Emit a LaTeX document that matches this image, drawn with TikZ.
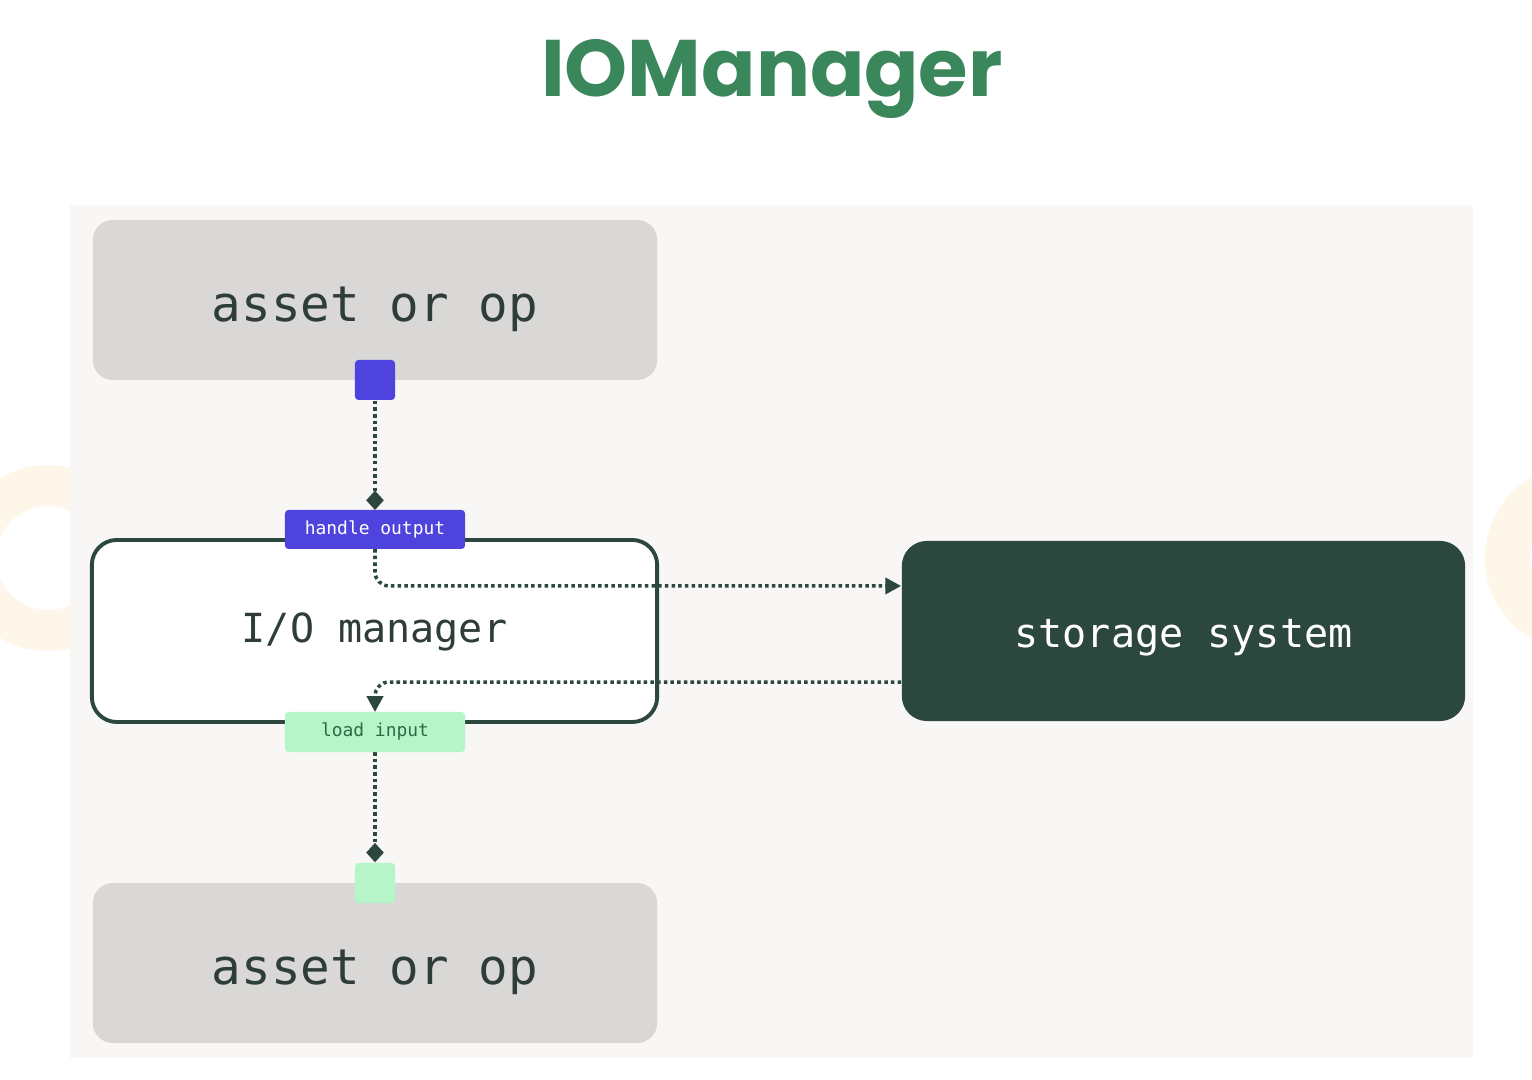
\documentclass[tikz,border=0pt]{standalone}
\usepackage{fontspec}
\setmonofont{DejaVu Sans Mono}
\newfontfamily\titlefont{Poppins}
\usetikzlibrary{arrows.meta}

\definecolor{panelgray}{HTML}{F8F7F5}
\definecolor{boxgray}{HTML}{D9D8D6}
\definecolor{inkgreen}{HTML}{2C473D}
\definecolor{textgreen}{HTML}{2E3D37}
\definecolor{handlepurple}{HTML}{4F43DD}
\definecolor{loadgreen}{HTML}{B6F5C8}
\definecolor{loadtext}{HTML}{2E6B45}
\definecolor{titlegreen}{HTML}{3B875C}
\definecolor{ringorange}{HTML}{FEF6E8}

\tikzset{
  assetbox/.style={fill=boxgray, rounded corners=0.2cm, minimum width=5.64cm,
    minimum height=1.6cm, text height=12.5pt, text depth=0pt,
    font=\ttfamily\fontsize{14}{16}\selectfont, text=textgreen},
  portsq/.style={rounded corners=1pt, minimum size=0.4cm, inner sep=0pt},
  tag/.style={rounded corners=1pt, minimum width=1.8cm, minimum height=0.39cm,
    inner sep=0pt, font=\ttfamily\fontsize{5.1}{6}\selectfont},
  flow/.style={inkgreen, line width=1pt, dash pattern=on 1pt off 0.9pt},
}

\begin{document}
\begin{tikzpicture}[x=0.01cm,y=-0.01cm]
   \useasboundingbox (0,0) rectangle (1532,1080);
   % faint rings at the sides
   \fill[ringorange, even odd rule] (48,558) circle (0.93cm) (48,558) circle (0.52cm);
   \fill[ringorange, even odd rule] (1578,558) circle (0.93cm) (1578,558) circle (0.48cm);
   \fill[panelgray] (70,205) rectangle (1473,1058);

   \node[anchor=base, text=titlegreen, font=\titlefont\bfseries\fontsize{22.8}{26}\selectfont] (title) at (772,97) {IOManager};

   \node[assetbox] (srcop) at (375,300) {asset or op};
   \node[assetbox] (dstop) at (375,963) {asset or op};
   \node[draw=inkgreen, line width=1.1pt, fill=white, rounded corners=0.25cm,
     minimum width=5.65cm, minimum height=1.82cm, text height=6.8pt, text depth=0pt,
     font=\ttfamily\fontsize{11.4}{14}\selectfont, text=textgreen] (iomgr) at (374.5,631) {I/O manager};
   \node[fill=inkgreen, rounded corners=0.25cm, minimum width=5.63cm, minimum height=1.8cm,
     text height=9.6pt, text depth=0pt,
     font=\ttfamily\fontsize{11.4}{14}\selectfont, text=white] (store) at (1183.5,631) {storage system};

   \node[portsq, fill=handlepurple] (outport) at (375,380) {};
   \node[portsq, fill=loadgreen] (inport) at (375,883) {};

   % connectors
   \draw[flow, -{Diamond[length=5.5pt,width=5pt]}] (outport.south) -- (375,510) coordinate (hotop);
   \draw[flow, -{Triangle[length=4.5pt,width=4.6pt]}, rounded corners=4pt]
     (375,549) |- ([yshift=0.45cm]store.west);
   \draw[flow, -{Triangle[length=4.5pt,width=4.6pt]}, rounded corners=4pt]
     ([yshift=-0.51cm]store.west) -| (375,712);
   \draw[flow, -{Diamond[length=5.5pt,width=5pt]}] (375,752) -- (inport.north);

   \node[tag, fill=handlepurple, text=white] (handle) at (375,529.5) {handle output};
   \node[tag, fill=loadgreen, text=loadtext, minimum height=0.4cm] (load) at (375,732) {load input};
\end{tikzpicture}
\end{document}
